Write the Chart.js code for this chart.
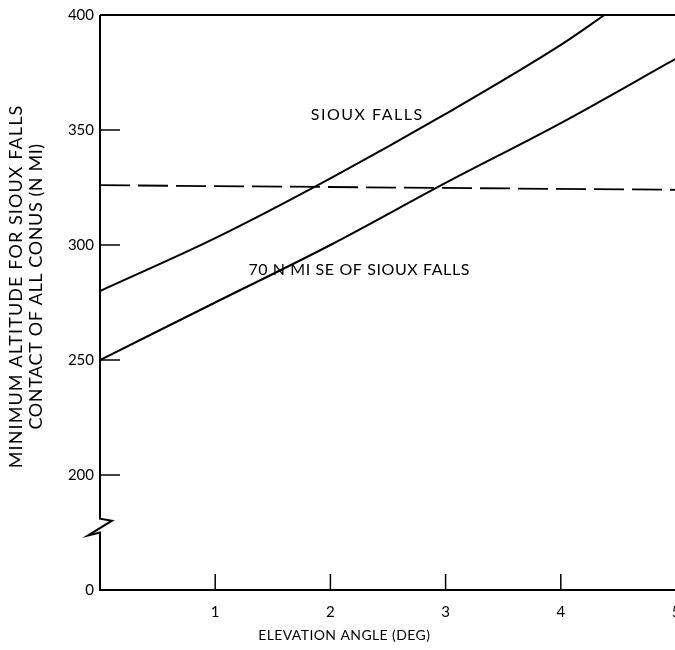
<!DOCTYPE html>
<html>
<head>
<meta charset="utf-8">
<script src="https://cdn.jsdelivr.net/npm/chart.js@4/dist/chart.umd.min.js"></script>
<style>
  html, body { margin: 0; padding: 0; background: #fff; overflow: hidden; }
  #wrap { width: 675px; height: 650px; overflow: hidden; }
</style>
</head>
<body>
<div id="wrap"><canvas id="myChart" width="700" height="650"></canvas></div>
<script>
// values
const sfAngle = [0, 1, 2, 3, 4, 4.38];
const sfAltitude = [280, 303, 329, 357, 387, 400];
const seAngle = [0, 1, 2, 3, 4, 5];
const seAltitude = [250, 275, 300, 327, 353, 381];
const limitAngle = [0, 5];
const limitAltitude = [326, 324];
const xTicks = [1, 2, 3, 4];
const yTicks = [200, 250, 300, 350];

const toPoints = (xs, ys) => xs.map((x, i) => ({ x: x, y: ys[i] }));

const FONT = 'Lato, "DejaVu Sans", sans-serif';

// hand-drawn style axis: inward ticks, broken y axis, top border, text labels
const decorations = {
    id: 'decorations',
    afterDraw(chart) {
        const ctx = chart.ctx;
        const x = chart.scales.x;
        const y = chart.scales.y;
        const a = chart.chartArea;
        ctx.save();
        ctx.strokeStyle = '#000';
        ctx.lineWidth = 2;
        ctx.lineCap = 'butt';

        // top border
        ctx.beginPath();
        ctx.moveTo(a.left, a.top);
        ctx.lineTo(a.right, a.top);
        ctx.stroke();

        // left axis with zigzag break
        const bTop = y.getPixelForValue(181);
        const bBot = y.getPixelForValue(175);
        ctx.beginPath();
        ctx.moveTo(a.left, a.top);
        ctx.lineTo(a.left, bTop);
        ctx.lineTo(a.left + 12, bTop + 2);
        ctx.lineTo(a.left - 12, bBot + 3);
        ctx.lineTo(a.left, bBot);
        ctx.lineTo(a.left, a.bottom);
        ctx.stroke();

        // inward tick marks
        ctx.lineWidth = 1.5;
        yTicks.forEach(v => {
            const py = y.getPixelForValue(v);
            ctx.beginPath();
            ctx.moveTo(a.left, py);
            ctx.lineTo(a.left + 20, py);
            ctx.stroke();
        });
        xTicks.forEach(v => {
            const px = x.getPixelForValue(v);
            ctx.beginPath();
            ctx.moveTo(px, a.bottom);
            ctx.lineTo(px, a.bottom - 16);
            ctx.stroke();
        });

        // text
        ctx.fillStyle = '#000';
        ctx.textAlign = 'center';
        ctx.textBaseline = 'middle';
        ctx.font = '16px ' + FONT;
        ctx.letterSpacing = '1.5px';
        ctx.fillText('SIOUX FALLS', x.getPixelForValue(2.32), y.getPixelForValue(356.5));
        ctx.letterSpacing = '0.6px';
        ctx.fillText('70 N MI SE OF SIOUX FALLS', x.getPixelForValue(2.25), y.getPixelForValue(289));
        ctx.font = '14px ' + FONT;
        ctx.letterSpacing = '0.4px';
        ctx.fillText('ELEVATION ANGLE (DEG)', x.getPixelForValue(2.12), a.bottom + 45);

        // y axis title, two lines
        const midY = y.getPixelForValue(282);
        ctx.translate(0, midY);
        ctx.rotate(-Math.PI / 2);
        ctx.font = '18px ' + FONT;
        ctx.letterSpacing = '1.1px';
        ctx.fillText('MINIMUM ALTITUDE FOR SIOUX FALLS', 0, 16);
        ctx.letterSpacing = '0.6px';
        ctx.fillText('CONTACT OF ALL CONUS (N MI)', 0, 36);
        ctx.restore();
    }
};

const ctx = document.getElementById('myChart').getContext('2d');
const myChart = new Chart(ctx, {
    type: 'line',
    data: {
        datasets: [
            {
                label: 'Sioux Falls',
                data: toPoints(sfAngle, sfAltitude),
                borderColor: '#000',
                borderWidth: 2,
                pointRadius: 0,
                cubicInterpolationMode: 'monotone'
            },
            {
                label: '70 N MI SE of Sioux Falls',
                data: toPoints(seAngle, seAltitude),
                borderColor: '#000',
                borderWidth: 2,
                pointRadius: 0,
                cubicInterpolationMode: 'monotone'
            },
            {
                label: 'limit',
                data: toPoints(limitAngle, limitAltitude),
                borderColor: '#000',
                borderWidth: 1.8,
                borderDash: [30, 8],
                pointRadius: 0
            }
        ]
    },
    options: {
        responsive: false,
        animation: false,
        layout: { padding: { top: 15, right: 24, left: 0, bottom: 0 } },
        plugins: {
            legend: { display: false },
            tooltip: { enabled: false }
        },
        scales: {
            x: {
                type: 'linear',
                min: 0,
                max: 5,
                grid: { display: false, drawTicks: false },
                border: { display: true, color: '#000', width: 2 },
                ticks: {
                    stepSize: 1,
                    padding: 13,
                    color: '#000',
                    font: { family: FONT, size: 15 },
                    callback: v => (v === 0 ? '' : v)
                },
                afterFit: s => { s.height = 60; }
            },
            y: {
                type: 'linear',
                min: 150,
                max: 400,
                grid: { display: false, drawTicks: false },
                border: { display: false },
                ticks: {
                    stepSize: 50,
                    padding: 6,
                    color: '#000',
                    font: { family: FONT, size: 15 },
                    callback: v => (v === 150 ? '0' : v)
                },
                afterFit: s => { s.width = 100; }
            }
        }
    },
    plugins: [decorations]
});
</script>
</body>
</html>
